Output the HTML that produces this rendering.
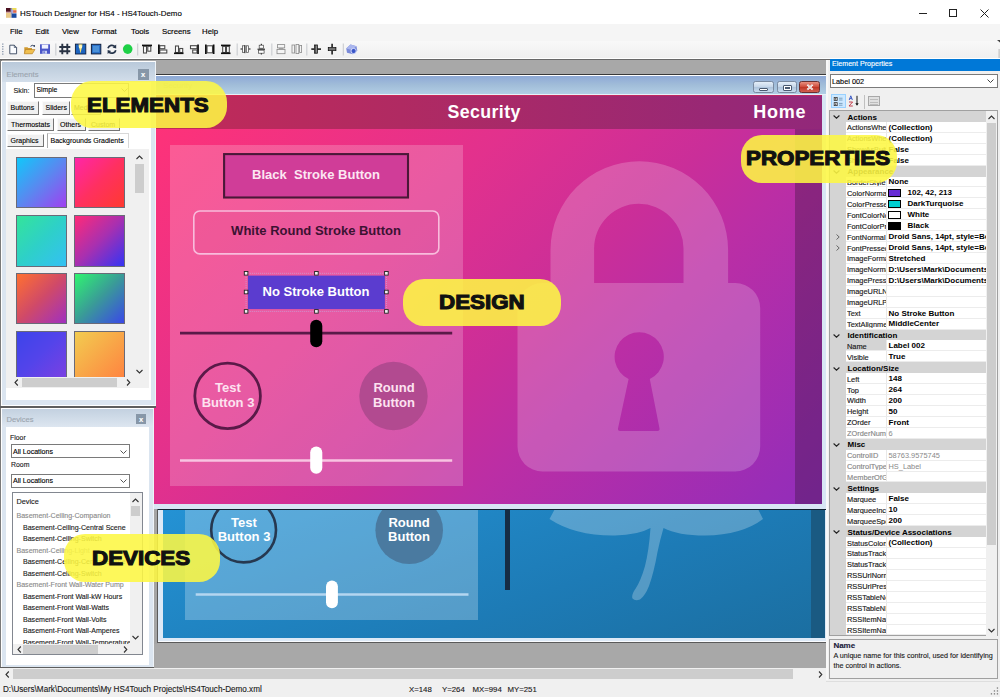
<!DOCTYPE html>
<html><head><meta charset="utf-8">
<style>
*{margin:0;padding:0;box-sizing:border-box}
html,body{width:1000px;height:697px;overflow:hidden;background:#fff}
body{font-family:"Liberation Sans",sans-serif;font-size:8px;color:#000;position:relative}
.a{position:absolute}
.t{position:absolute;white-space:nowrap;line-height:1;-webkit-text-stroke:0.12px currentColor}
/* title bar */
#title{left:0;top:0;width:1000px;height:24px;background:#fff}
#menu{left:0;top:24px;width:1000px;height:17px;background:#f5f5f5}
#tool{left:0;top:41px;width:1000px;height:17px;background:linear-gradient(#f8f8f8,#f0f0f0)}
#main{left:0;top:58px;width:1000px;height:622px;background:#a8a8a8;border-top:1px solid #fff}
#status{left:0;top:680px;width:1000px;height:17px;background:#f0f0f0}
.sep{position:absolute;top:43px;width:1px;height:13px;background:#c8c8c8;border-right:1px solid #fff}
.tab{background:#f0f0f0;border:1px solid #fafafa;border-right:1.5px solid #747474;border-bottom:1.5px solid #747474}
.sw{width:51.1px;border:1px solid #6a6a78}
.dl{position:absolute;left:23px;white-space:nowrap;line-height:1;font-size:7.05px;color:#1a1a1a;-webkit-text-stroke:0.12px currentColor}
.wb{height:11.9px;border:1px solid #7a8aa0;border-radius:2.5px;background:linear-gradient(#e4eef8,#c8d8ea 45%,#b0c6de 55%,#c8dcee)}
.dt{position:absolute;white-space:nowrap;font-weight:bold;font-size:13px;line-height:1}
.c{width:200px;text-align:center;font-size:13.7px;transform:scaleX(0.95)}
.pn{position:absolute;left:17px;width:38.5px;overflow:hidden;white-space:nowrap;font-size:7.4px;line-height:1;-webkit-text-stroke:0.15px currentColor}
.pvb{position:absolute;white-space:nowrap;font-weight:bold;font-size:8px;line-height:1;color:#000}
.pvg{position:absolute;white-space:nowrap;font-size:7.4px;line-height:1;color:#888}
.pc{position:absolute;left:17.5px;white-space:nowrap;font-weight:bold;font-size:8px;line-height:1;color:#000}
.yl{position:absolute;background:rgba(253,247,67,0.88);border-radius:21px}
.yt{position:absolute;white-space:nowrap;font-weight:bold;font-size:19.8px;line-height:1;color:#111;transform:scaleX(1.13);transform-origin:0 0;-webkit-text-stroke:1.1px #111;letter-spacing:0}
</style></head><body>
<!-- Title bar -->
<div class="a" id="title"></div>
<svg class="a" style="left:5.6px;top:7.9px" width="11" height="10"><rect x="0" y="0" width="4.8" height="4.2" fill="#4a1020"/><rect x="0" y="3.6" width="4.8" height="1.2" fill="#c89098"/><rect x="0" y="4.8" width="4.8" height="5" fill="#e8c888"/><rect x="4.8" y="0" width="1.2" height="9.8" fill="#8a94b0"/><rect x="6" y="0" width="4.5" height="2.2" fill="#ecdc58"/><rect x="6" y="2.2" width="4.5" height="2.6" fill="#e06848"/><rect x="5.4" y="1.5" width="1.8" height="3.5" fill="#b0a8e0"/><rect x="6" y="5.4" width="4.5" height="4.4" fill="#1a4aa0"/></svg>
<div class="t" style="left:20px;top:9.5px;font-size:7.9px;color:#000">HSTouch Designer for HS4 - HS4Touch-Demo</div>
<div class="a" style="left:919px;top:13px;width:8px;height:1px;background:#222"></div>
<div class="a" style="left:949px;top:9px;width:8px;height:8px;border:1px solid #222"></div>
<svg class="a" style="left:980px;top:9px" width="9" height="9"><path d="M0.5 0.5L8.5 8.5M8.5 0.5L0.5 8.5" stroke="#222" stroke-width="1"/></svg>
<!-- Menu -->
<div class="a" id="menu"></div>
<div class="t" style="left:10px;top:28px;font-size:7.8px;color:#000;-webkit-text-stroke:0.15px #000">File</div>
<div class="t" style="left:35.5px;top:28px;font-size:7.8px;color:#000;-webkit-text-stroke:0.15px #000">Edit</div>
<div class="t" style="left:62px;top:28px;font-size:7.8px;color:#000;-webkit-text-stroke:0.15px #000">View</div>
<div class="t" style="left:92px;top:28px;font-size:7.8px;color:#000;-webkit-text-stroke:0.15px #000">Format</div>
<div class="t" style="left:131px;top:28px;font-size:7.8px;color:#000;-webkit-text-stroke:0.15px #000">Tools</div>
<div class="t" style="left:162px;top:28px;font-size:7.8px;color:#000;-webkit-text-stroke:0.15px #000">Screens</div>
<div class="t" style="left:202px;top:28px;font-size:7.8px;color:#000;-webkit-text-stroke:0.15px #000">Help</div>
<!-- Toolbar -->
<div class="a" id="tool"></div>
<svg class="a" style="left:0;top:39px" width="362" height="20" viewBox="0 39 362 20">
 <!-- grip -->
 <g fill="#7888a0"><rect x="2.2" y="43.5" width="1.2" height="1.2"/><rect x="2.2" y="46" width="1.2" height="1.2"/><rect x="2.2" y="48.5" width="1.2" height="1.2"/><rect x="2.2" y="51" width="1.2" height="1.2"/><rect x="2.2" y="53.5" width="1.2" height="1.2"/></g>
 <!-- new -->
 <path d="M9.8 45.2H14.3L16.6 47.5V53.8H9.8Z" fill="#fafcff" stroke="#34445c" stroke-width="0.9"/>
 <path d="M14.3 45.2V47.5H16.6" fill="none" stroke="#34445c" stroke-width="0.7"/>
 <!-- open -->
 <path d="M24.3 47.2H27.5L28.3 48H32V53.6H24.3Z" fill="#d09a30"/>
 <path d="M25.5 49.5H35L32.3 53.8H24.3Z" fill="#f0c050" stroke="#b07820" stroke-width="0.6"/>
 <path d="M30.5 46.3Q32.5 44.3 34.3 46.3" fill="none" stroke="#2a3a58" stroke-width="1"/><path d="M33.2 45.6L35 47.2L35 45Z" fill="#2a3a58"/>
 <!-- save -->
 <rect x="40" y="44.3" width="10" height="9.5" fill="#4a56c8"/>
 <rect x="41.8" y="44.6" width="6.4" height="4" fill="#f0f2ff"/>
 <rect x="42.5" y="50.8" width="4.5" height="3" fill="#c8d0f0"/>
 <rect x="43.5" y="51.3" width="1.2" height="2" fill="#4a56c8"/>
 <rect x="55.4" y="43.5" width="0.9" height="12" fill="#c0c4c8"/>
 <!-- grid -->
 <g stroke="#2a3444" stroke-width="1.9"><path d="M62.3 43.8V54.3M67.3 43.8V54.3M59.3 47H70.3M59.3 51.2H70.3"/></g>
 <!-- image icon -->
 <rect x="75.4" y="44.1" width="10.4" height="9.9" fill="#1c64c0" stroke="#102040" stroke-width="0.9"/>
 <path d="M78.5 44.6Q80.5 44 82.5 44.6L81.5 49L80.5 53.5L79.5 49Z" fill="#f8e070"/><circle cx="80.5" cy="46.8" r="1.8" fill="#fff8c0"/>
 <!-- blue square -->
 <rect x="91.4" y="44.3" width="9.4" height="9.6" fill="#2a70c8" stroke="#102040" stroke-width="1"/>
 <rect x="93" y="46" width="6" height="6" fill="#4a90d8"/>
 <!-- refresh -->
 <path d="M108 48.3A4 4 0 0 1 115 46.8" fill="none" stroke="#26344a" stroke-width="1.7"/>
 <path d="M116.2 44.5L116.2 48.5L112.6 47.6Z" fill="#26344a"/>
 <path d="M115.8 50.2A4 4 0 0 1 108.8 51.7" fill="none" stroke="#26344a" stroke-width="1.7"/>
 <path d="M107.6 54L107.6 50L111.2 50.9Z" fill="#26344a"/>
 <!-- green -->
 <circle cx="127.7" cy="49.1" r="4.8" fill="#1ed046"/>
 <rect x="137.3" y="43.5" width="0.9" height="12" fill="#c0c4c8"/>
 <!-- align top -->
 <g fill="#fff" stroke="#4a4a4a" stroke-width="1.1">
  <rect x="143.5" y="46.2" width="3" height="6.8"/><rect x="147.8" y="46.2" width="3" height="5"/>
  <rect x="159.8" y="45.7" width="5" height="3"/><rect x="159.8" y="50" width="7" height="3"/>
  <rect x="175.5" y="46" width="3" height="6.5"/><rect x="179.7" y="48.5" width="3" height="4"/>
  <rect x="190.5" y="45.7" width="6.5" height="3"/><rect x="192.7" y="50" width="4.3" height="3"/>
  <rect x="207" y="45.8" width="5.5" height="7"/>
  <rect x="222.7" y="46.3" width="2.8" height="6.2"/><rect x="226.5" y="46.3" width="2.8" height="6.2"/>
 </g>
 <g fill="#111">
  <rect x="142" y="44.6" width="10" height="1.6"/>
  <rect x="158" y="44.5" width="1.7" height="9.5"/>
  <rect x="174" y="52.5" width="9.5" height="1.6"/>
  <rect x="197.2" y="44.5" width="1.7" height="9.5"/>
  <rect x="205" y="44.5" width="1.7" height="9.5"/><rect x="212.8" y="44.5" width="1.7" height="9.5"/>
  <rect x="221" y="44.6" width="9.5" height="1.6"/><rect x="221" y="52.5" width="9.5" height="1.6"/>
 </g>
 <rect x="236.7" y="43.5" width="0.9" height="12" fill="#c0c4c8"/>
 <!-- h spacing -->
 <g fill="#fff" stroke="#444" stroke-width="0.7"><rect x="242.5" y="45.8" width="2.3" height="6.5"/><rect x="246.3" y="45.8" width="2.3" height="6.5"/></g>
 <path d="M240.5 49H242.3M248.8 49H250.5" stroke="#111" stroke-width="1.1"/>
 <path d="M244.9 45V53.2" stroke="#111" stroke-width="0.8"/>
 <!-- v spacing -->
 <g fill="#fff" stroke="#444" stroke-width="0.7"><rect x="259.2" y="45.2" width="4.2" height="3"/><rect x="258.6" y="50.2" width="5.5" height="3"/></g>
 <path d="M261.3 43.8V45M261.3 53.3V54.5M257.5 49.2H265" stroke="#111" stroke-width="1"/>
 <rect x="271.4" y="43.5" width="0.9" height="12" fill="#c0c4c8"/>
 <!-- same size (gray) -->
 <g fill="#f4f4f4" stroke="#8a8a8a" stroke-width="0.8"><rect x="277.5" y="44.6" width="7.2" height="3.3"/><rect x="277" y="49.5" width="8" height="4.2"/></g>
 <path d="M278.8 48.6H283.4" stroke="#8a8a8a" stroke-width="0.8"/>
 <g fill="#f4f4f4" stroke="#8a8a8a" stroke-width="0.8"><rect x="292" y="45" width="2.6" height="8"/><rect x="296" y="44.4" width="2.8" height="9.2"/><rect x="299.6" y="45.5" width="2" height="7"/></g>
 <rect x="306.4" y="43.5" width="0.9" height="12" fill="#c0c4c8"/>
 <!-- center h -->
 <path d="M311.3 49.1H321" stroke="#111" stroke-width="1.5"/><rect x="314.4" y="45" width="3" height="8.2" fill="#fff" stroke="#111" stroke-width="0.8"/><path d="M315.9 45V53.2" stroke="#111" stroke-width="1.2"/>
 <!-- center v -->
 <path d="M332.1 43.8V54.6" stroke="#111" stroke-width="1.5"/><rect x="328.3" y="47.4" width="7.6" height="3.2" fill="#fff" stroke="#111" stroke-width="0.8"/><path d="M328.3 49H336" stroke="#111" stroke-width="1.2"/>
 <rect x="342.8" y="43.5" width="0.9" height="12" fill="#c0c4c8"/>
 <!-- 3d icon -->
 <path d="M346.2 48.5L350.5 44.6L356.5 46.2L357.3 50.8L353 54.3L347 52.7Z" fill="#7a8ad8"/>
 <path d="M346.2 48.5L350.5 44.6L356.5 46.2L352 50Z" fill="#aab6ee"/>
 <circle cx="353.6" cy="51" r="2.6" fill="#3a56c8" stroke="#e8ecff" stroke-width="0.8"/>
</svg>
<svg class="a" style="left:996px;top:38px" width="4" height="20"><path d="M1 2H4V4.5Z" fill="#444"/><rect x="2.6" y="11" width="1" height="9" fill="#b8b8b8"/></svg>
<!-- Main -->
<div class="a" id="main"></div>
<div class="a" style="left:0;top:59px;width:1000px;height:1.4px;background:#686868"></div>

<!-- ===== MDI / Design ===== -->
<div class="a" style="left:156px;top:74px;width:670px;height:1px;background:#3a3a3a"></div>
<!-- blue window (behind) -->
<div class="a" style="left:153.5px;top:504px;width:4px;height:140px;background:#a4a4a4"></div>
<div class="a" style="left:157px;top:504px;width:669px;height:139.3px;background:#dde9f6;border-left:1px solid #5a5a5a;border-bottom:1px solid #5a5a5a"></div>
<div class="a" style="left:158px;top:641.3px;width:668px;height:1px;background:#fafcff"></div>
<div class="a" style="left:157.5px;top:507.6px;width:668px;height:1px;background:#98e4f4"></div>
<div class="a" style="left:157.5px;top:508.6px;width:668px;height:1.2px;background:#10202e"></div>
<div class="a" id="blue" style="left:163px;top:509.8px;width:662.4px;height:127.8px;overflow:hidden;background:linear-gradient(160deg,#2492d4,#1d7bb6 60%,#1b6ea0)">
  <div class="a" style="left:647.8px;top:0;width:15px;height:129px;background:#1a5a82"></div>
  <div class="a" style="left:22.2px;top:-20px;width:292.5px;height:130.3px;background:rgba(255,255,255,0.25)"></div>
  <div class="a" style="left:342.2px;top:0;width:4.5px;height:80.3px;background:#162c44"></div>
  <svg class="a" style="left:-163px;top:-509.8px" width="1000" height="697">
    <path fill="rgba(255,255,255,0.25)" d="M557 505 L549.5 519 Q575 536 615 535.5 Q638 535 650.5 528 Q649 550 645 566 Q641 580 636 588 Q631 595 632.5 598.5 Q635 601.5 640 599.5 Q645 596 649 586 Q654 572 657.5 552 Q660 540 663.5 528 Q678 535.5 705 535.5 Q742 535 763 519 L756 505 Z"/>
    <circle cx="243.6" cy="530" r="32.4" fill="none" stroke="#263850" stroke-width="2.6"/>
    <circle cx="409.2" cy="530.3" r="33.8" fill="#4a7aa0"/>
    <line x1="195.7" y1="594.6" x2="468.5" y2="594.6" stroke="#b4d6f0" stroke-width="2.5"/>
    <rect x="326" y="580.6" width="11.9" height="27.6" rx="6" fill="#fff"/>
  </svg>
  <div class="dt c" style="left:-19.4px;top:5.9px;color:#fff;line-height:14.3px">Test<br>Button 3</div>
  <div class="dt c" style="left:146.2px;top:5.9px;color:#fff;line-height:14.3px">Round<br>Button</div>
</div>
<!-- pink window -->
<div class="a" style="left:150px;top:75px;width:676px;height:434px;background:#d8e6f4;border-top:1px solid #fff"></div>
<div class="a" style="left:150px;top:76px;width:676px;height:18.5px;background:linear-gradient(#8ea9d6,#a2bed9 50%,#b3cfe6)"></div>
<div class="a" style="left:150px;top:94.3px;width:676px;height:1px;background:#e8f0f8"></div>
<div class="t" style="left:163px;top:81.5px;font-size:8px;color:#8aa0b8">Security</div>
<div class="a wb" style="left:752.5px;top:81.2px;width:21px"></div>
<div class="a" style="left:758.5px;top:87.5px;width:9px;height:3px;background:#fff;border:1px solid #4a5a70;border-radius:1px"></div>
<div class="a wb" style="left:776.6px;top:81.2px;width:20.6px"></div>
<div class="a" style="left:782.5px;top:84.5px;width:9px;height:6.5px;background:#fff;border:1px solid #4a5a70;border-radius:1px"></div><div class="a" style="left:784.5px;top:86.5px;width:5px;height:2.5px;background:#4a5a70"></div>
<div class="a" style="left:799.2px;top:81.2px;width:21.1px;height:11.9px;border:1px solid #6a3030;border-radius:2.5px;background:linear-gradient(#e89080,#d05040 45%,#c03828 55%,#d06050)"></div>
<svg class="a" style="left:805px;top:83px" width="10" height="8"><path d="M2.3 1.6L7.7 6.6M7.7 1.6L2.3 6.6" stroke="#fff" stroke-width="1.8"/><path d="M2 1L8 7M8 1L2 7" stroke="#5a2020" stroke-width="0.4" opacity="0.4"/></svg>
<div class="a" style="left:153px;top:95.3px;width:2px;height:408.8px;background:linear-gradient(rgb(194,42,88) 8%,rgb(255,50,118) 9%,rgb(222,52,140))"></div>
<div class="a" id="pink" style="left:154px;top:95.3px;width:668px;height:408.8px;overflow:hidden;background:linear-gradient(135deg,rgb(255,50,118) 0%,rgb(252,50,122) 5%,rgb(226,49,141) 36%,rgb(202,46,153) 56%,rgb(187,46,165) 67%,rgb(152,45,183) 94%,rgb(146,45,186) 100%)">
  <div class="a" style="left:0;top:0;width:668px;height:34px;background:linear-gradient(90deg,rgb(194,42,88),rgb(176,42,98) 37%,rgb(152,40,117) 84%,rgb(146,40,122))"></div><div class="a" style="left:0;top:0;width:668px;height:1px;background:rgba(230,40,80,0.5)"></div>
  <div class="a" style="left:641px;top:34px;width:27px;height:375px;background:rgba(50,20,50,0.34)"></div>
  <div class="a" style="left:16px;top:50px;width:293px;height:340.5px;background:rgba(255,255,255,0.2)"></div>
  <svg class="a" style="left:-154px;top:-95.3px" width="1000" height="697">
    <path fill="rgba(255,255,255,0.2)" fill-rule="evenodd" d="M550.5 283 V250 A88.8 88.8 0 0 1 728.1 250 V283 H683.5 V248.5 A44.7 44.7 0 0 0 594.1 248.5 V283 Z M542.5 283 H735.2 A25 25 0 0 1 760.2 308 V446.5 A25 25 0 0 1 735.2 471.5 H542.5 A25 25 0 0 1 517.5 446.5 V308 A25 25 0 0 1 542.5 283 Z M628.6 379 A24.6 24.6 0 1 1 649.8 379 L659.5 428.5 Q660 431 657.5 431 H620 Q617.5 431 618 428.5 Z"/>
    <line x1="180" y1="333.2" x2="452.2" y2="333.2" stroke="#5a1a48" stroke-width="2.8"/>
    <rect x="310.2" y="319.8" width="12.1" height="27.4" rx="6" fill="#000"/>
    <circle cx="227.6" cy="395.9" r="32.8" fill="none" stroke="#5a1a48" stroke-width="2.8"/>
    <circle cx="393.5" cy="396" r="34.2" fill="#b24a90"/>
    <line x1="180" y1="460.4" x2="452.2" y2="460.4" stroke="#f8c4e2" stroke-width="2.5"/>
    <rect x="310.2" y="446.4" width="12.1" height="27.4" rx="6" fill="#fff"/>
    <rect x="224.1" y="154.1" width="183.9" height="43.4" fill="#d03d98" stroke="#4a1838" stroke-width="2.1"/>
    <rect x="193.8" y="211" width="245" height="42.9" rx="6" fill="rgba(160,20,90,0.04)" stroke="#f8bcdc" stroke-width="1.6"/>
    <rect x="246.1" y="273.3" width="140.3" height="38.1" fill="none" stroke="#c8a0d8" stroke-width="0.8" stroke-dasharray="1 1"/>
    <rect x="247.9" y="275.6" width="137" height="33.5" fill="#5b3ccf"/>
    <g fill="#f4f0f4" stroke="#222" stroke-width="0.9">
      <rect x="244.3" y="271.5" width="3.6" height="3.6"/><rect x="314.6" y="271.5" width="3.6" height="3.6"/><rect x="384.6" y="271.5" width="3.6" height="3.6"/>
      <rect x="244.3" y="290.2" width="3.6" height="3.6"/><rect x="384.6" y="290.2" width="3.6" height="3.6"/>
      <rect x="244.3" y="309.6" width="3.6" height="3.6"/><rect x="314.6" y="309.6" width="3.6" height="3.6"/><rect x="384.6" y="309.6" width="3.6" height="3.6"/>
    </g>
  </svg>
  <div class="dt" style="left:293.4px;top:8.4px;font-size:17.8px;color:#fff;letter-spacing:0.4px">Security</div>
  <div class="dt" style="left:599.2px;top:8.2px;font-size:18px;color:#fff;letter-spacing:0.8px">Home</div>
  <div class="dt c" style="left:62px;top:72.9px;color:#fce6f2">Black&nbsp; Stroke Button</div>
  <div class="dt c" style="left:62px;top:129.0px;color:#3c1232">White Round Stroke Button</div>
  <div class="dt c" style="left:62px;top:189.4px;color:#fff">No Stroke Button</div>
  <div class="dt c" style="left:-26.4px;top:285.8px;color:#fde2f0;line-height:14.6px">Test<br>Button 3</div>
  <div class="dt c" style="left:139.5px;top:285.8px;color:#fde2f0;line-height:14.6px">Round<br>Button</div>
</div>
<!-- ===== Elements panel ===== -->
<div class="a" style="left:0;top:60px;width:2px;height:608px;background:#7a7a7a"></div>
<div class="a" style="left:1px;top:61px;width:155px;height:345px;background:#dbe5f0;border:1px solid #fff;border-right:1px solid #eef3f8"></div>
<div class="a" style="left:2px;top:62px;width:153px;height:20px;background:linear-gradient(#b9c9da,#d3deea)"></div>
<div class="t" style="left:6.5px;top:71px;font-size:7.7px;color:#9aa4ae">Elements</div>
<div class="a" style="left:138px;top:69px;width:10.5px;height:10.5px;background:#8797a8"></div>
<div class="t" style="left:141px;top:70.5px;font-size:7.5px;color:#fff;font-weight:bold">x</div>
<div class="a" style="left:6px;top:82px;width:145px;height:318px;background:#fff"></div>
<div class="t" style="left:13.5px;top:86.5px;font-size:7.2px;color:#1a1a1a">Skin:</div>
<div class="a" style="left:34px;top:83px;width:95px;height:14.5px;background:#fff;border:1px solid #7a7a7a"></div>
<div class="t" style="left:36.5px;top:86.5px;font-size:6.8px;color:#000">Simple</div>
<svg class="a" style="left:121px;top:88px" width="7" height="5"><path d="M0.5 0.5L3.5 3.5L6.5 0.5" fill="none" stroke="#555" stroke-width="1"/></svg>
<!-- tabs -->
<div class="a tab" style="left:7px;top:101px;width:32px;height:13.5px"></div><div class="t" style="left:10.5px;top:104.3px;font-size:7px">Buttons</div>
<div class="a tab" style="left:42px;top:101px;width:27.5px;height:13.5px"></div><div class="t" style="left:45.5px;top:104.3px;font-size:7px">Sliders</div>
<div class="a tab" style="left:70.5px;top:101px;width:30px;height:13.5px"></div><div class="t" style="left:74px;top:104.3px;font-size:7px">Media</div>
<div class="a tab" style="left:7px;top:117.5px;width:47px;height:13px"></div><div class="t" style="left:11px;top:120.5px;font-size:7px">Thermostats</div>
<div class="a tab" style="left:57px;top:117.5px;width:28.5px;height:13px"></div><div class="t" style="left:60px;top:120.5px;font-size:7px">Others</div>
<div class="a tab" style="left:88px;top:117.5px;width:32px;height:13px"></div><div class="t" style="left:91px;top:120.5px;font-size:7px">Custom</div>
<div class="a tab" style="left:7px;top:134px;width:36.5px;height:13px"></div><div class="t" style="left:10.5px;top:137px;font-size:7px">Graphics</div>
<div class="a" style="left:46.5px;top:133px;width:82px;height:15px;background:#fff;border:1px solid #d8d8d8;border-bottom:none;border-left:1.5px solid #a8a8a8"></div><div class="t" style="left:50.5px;top:137px;font-size:7px">Backgrounds Gradients</div>
<div class="a" style="left:6px;top:148px;width:143px;height:239.5px;background:#f0f0f0;border-top:1px solid #fff"></div>
<div class="a" style="left:11px;top:152px;width:135px;height:236px;background:#f0f0f0"></div>

<!-- swatches -->
<div class="a sw" style="left:16.3px;top:157px;height:51.4px;background:linear-gradient(135deg,#10c8fa,#5a88f0 50%,#a040f0)"></div>
<div class="a sw" style="left:74.3px;top:157px;height:51.4px;background:linear-gradient(135deg,#ff26a8,#ff3060 50%,#ff3a30)"></div>
<div class="a sw" style="left:16.3px;top:215px;height:51.5px;background:linear-gradient(135deg,#34e49a,#2ed0c8 50%,#34c0f4)"></div>
<div class="a sw" style="left:74.3px;top:215px;height:51.5px;background:linear-gradient(135deg,#ff2a78,#a830b0 50%,#3434f4)"></div>
<div class="a sw" style="left:16.3px;top:273px;height:51px;background:linear-gradient(135deg,#ff7030,#d04a68 50%,#a030c0)"></div>
<div class="a sw" style="left:74.3px;top:273px;height:51px;background:linear-gradient(135deg,#30f470,#3a9a98 50%,#3a48e8)"></div>
<div class="a sw" style="left:16.3px;top:331px;height:46px;background:linear-gradient(135deg,#3c44ea,#5444ea 50%,#7a40e2);border-bottom:none"></div>
<div class="a sw" style="left:74.3px;top:331px;height:46px;background:linear-gradient(135deg,#f2cc50,#f8a848 50%,#ff8440);border-bottom:none"></div>
<!-- h scrollbar -->
<div class="a" style="left:11px;top:377px;width:122px;height:10px;background:#f0f0f0"></div>
<div class="a" style="left:21.5px;top:377.5px;width:95.5px;height:9.5px;background:#cdcdcd"></div>
<svg class="a" style="left:13.5px;top:379px" width="5" height="7"><path d="M3.8 0.5L1 3.5L3.8 6.5" fill="none" stroke="#333" stroke-width="1.1"/></svg>
<svg class="a" style="left:125.5px;top:379px" width="5" height="7"><path d="M1 0.5L3.8 3.5L1 6.5" fill="none" stroke="#333" stroke-width="1.1"/></svg>
<!-- v scrollbar -->
<div class="a" style="left:133.5px;top:152px;width:11px;height:225px;background:#f0f0f0"></div>
<div class="a" style="left:134.5px;top:163.5px;width:9px;height:29px;background:#cdcdcd"></div>
<svg class="a" style="left:136px;top:155px" width="7" height="5"><path d="M0.5 4L3.5 1L6.5 4" fill="none" stroke="#333" stroke-width="1.1"/></svg>
<svg class="a" style="left:136px;top:368.5px" width="7" height="5"><path d="M0.5 1L3.5 4L6.5 1" fill="none" stroke="#333" stroke-width="1.1"/></svg>

<!-- ===== Devices panel ===== -->
<div class="a" style="left:0;top:405.5px;width:156px;height:2px;background:#5e5e5e"></div>
<div class="a" style="left:1px;top:407.5px;width:152.5px;height:260px;background:#dbe5f0;border:1px solid #fff;border-right:1px solid #eef3f8"></div>
<div class="a" style="left:2px;top:408.5px;width:150.5px;height:18.5px;background:linear-gradient(#c3d1e0,#dde6f0)"></div>
<div class="t" style="left:6.5px;top:416px;font-size:7.6px;color:#9aa4ae">Devices</div>
<div class="a" style="left:136.1px;top:414.3px;width:9.8px;height:9.7px;background:#8797a8"></div>
<div class="t" style="left:139px;top:415.5px;font-size:7.5px;color:#fff;font-weight:bold">x</div>
<div class="a" style="left:5.7px;top:427px;width:143.1px;height:237.5px;background:#fff"></div>
<div class="t" style="left:10px;top:434.5px;font-size:6.9px;color:#1a1a1a">Floor</div>
<div class="a" style="left:11px;top:444.3px;width:118.6px;height:14.2px;background:#fff;border:1px solid #7a7a7a"></div>
<div class="t" style="left:13px;top:448px;font-size:7.05px">All Locations</div>
<svg class="a" style="left:120px;top:449.5px" width="7" height="5"><path d="M0.5 0.5L3.5 3.5L6.5 0.5" fill="none" stroke="#555" stroke-width="1"/></svg>
<div class="t" style="left:11px;top:462px;font-size:6.9px;color:#1a1a1a">Room</div>
<div class="a" style="left:11px;top:473.9px;width:118.6px;height:13.7px;background:#fff;border:1px solid #7a7a7a"></div>
<div class="t" style="left:13px;top:477.3px;font-size:7.05px">All Locations</div>
<svg class="a" style="left:120px;top:479px" width="7" height="5"><path d="M0.5 0.5L3.5 3.5L6.5 0.5" fill="none" stroke="#555" stroke-width="1"/></svg>
<div class="a" style="left:11.5px;top:492.2px;width:131px;height:163px;background:#fff;border:1px solid #828790"></div>
<div class="t" style="left:16.5px;top:498px;font-size:7.3px;color:#1a1a1a">Device</div>
<div class="dl" style="top:512.3px;left:16.5px;color:#8a8a8a">Basement-Ceiling-Companion</div>
<div class="dl" style="top:523.8px">Basement-Ceiling-Central Scene</div>
<div class="dl" style="top:535.3px">Basement-Ceiling-Switch</div>
<div class="dl" style="top:546.8px;left:16.5px;color:#8a8a8a">Basement-Ceiling-Light</div>
<div class="dl" style="top:558.3px">Basement-Ceiling-Central Scene</div>
<div class="dl" style="top:569.8px">Basement-Ceiling-Switch</div>
<div class="dl" style="top:581.3px;left:16.5px;color:#8a8a8a">Basement-Front Wall-Water Pump</div>
<div class="dl" style="top:592.8px">Basement-Front Wall-kW Hours</div>
<div class="dl" style="top:604.3px">Basement-Front Wall-Watts</div>
<div class="dl" style="top:615.8px">Basement-Front Wall-Volts</div>
<div class="dl" style="top:627.3px">Basement-Front Wall-Amperes</div>
<div class="a" style="left:12.5px;top:637px;width:117px;height:7px;overflow:hidden"><div class="dl" style="top:1.8px;left:10.5px">Basement-Front Wall-Temperature</div></div>
<div class="a" style="left:129.6px;top:493px;width:12px;height:151px;background:#f0f0f0"></div>
<div class="a" style="left:131px;top:505.5px;width:9px;height:10.5px;background:#cdcdcd"></div>
<svg class="a" style="left:132px;top:497.5px" width="7" height="5"><path d="M0.5 4L3.5 1L6.5 4" fill="none" stroke="#333" stroke-width="1.1"/></svg>
<svg class="a" style="left:132px;top:634.5px" width="7" height="5"><path d="M0.5 1L3.5 4L6.5 1" fill="none" stroke="#333" stroke-width="1.1"/></svg>
<div class="a" style="left:12.5px;top:644px;width:129px;height:10px;background:#f0f0f0"></div>
<div class="a" style="left:23px;top:644.5px;width:74.7px;height:9.3px;background:#cdcdcd"></div>
<svg class="a" style="left:16.5px;top:645.5px" width="5" height="7"><path d="M3.8 0.5L1 3.5L3.8 6.5" fill="none" stroke="#333" stroke-width="1.1"/></svg>
<svg class="a" style="left:122.5px;top:645.5px" width="5" height="7"><path d="M1 0.5L3.8 3.5L1 6.5" fill="none" stroke="#333" stroke-width="1.1"/></svg>
<div class="a" style="left:0;top:667px;width:154px;height:1px;background:#5e5e5e"></div>


<!-- MDI h scrollbar -->
<div class="a" style="left:0;top:668.3px;width:826px;height:11.5px;background:#f0f0f0"></div>
<div class="a" style="left:13.3px;top:668.8px;width:780px;height:10.5px;background:#cdcdcd"></div>
<svg class="a" style="left:4.5px;top:670.5px" width="5" height="7"><path d="M3.8 0.5L1 3.5L3.8 6.5" fill="none" stroke="#333" stroke-width="1.1"/></svg>
<svg class="a" style="left:817.5px;top:670.5px" width="5" height="7"><path d="M1 0.5L3.8 3.5L1 6.5" fill="none" stroke="#333" stroke-width="1.1"/></svg>
<!-- ===== Properties panel ===== -->
<div class="a" style="left:825.7px;top:60px;width:174.3px;height:620px;background:#f0f0f0;border-left:2.5px solid #f8f8f8"></div>
<div class="a" style="left:829.6px;top:59.4px;width:170.4px;height:11.2px;background:#0078d7"></div>
<div class="t" style="left:832px;top:60.5px;font-size:7.1px;color:#fff">Element Properties</div>
<div class="a" style="left:829.6px;top:74.2px;width:168px;height:14px;background:#fff;border:1px solid #7a7a7a"></div>
<div class="t" style="left:832px;top:78px;font-size:7.3px;color:#000">Label 002</div>
<svg class="a" style="left:987px;top:79px" width="7" height="5"><path d="M0.5 0.5L3.5 3.5L6.5 0.5" fill="none" stroke="#444" stroke-width="1"/></svg>
<!-- prop toolbar -->
<div class="a" style="left:831px;top:93.9px;width:15.3px;height:14.4px;background:#cce8ff;border:1px solid #99d1ff"></div>
<svg class="a" style="left:831px;top:93.9px" width="16" height="15">
 <rect x="3.2" y="3.4" width="3" height="3" fill="#fff" stroke="#333" stroke-width="0.8"/><rect x="3.2" y="8.6" width="3" height="3" fill="#fff" stroke="#333" stroke-width="0.8"/>
 <circle cx="4.7" cy="4.9" r="0.7" fill="#000"/><circle cx="4.7" cy="10.1" r="0.7" fill="#000"/>
 <path d="M8 4.2H11.5M8 6H11.5M8 9.4H11.5M8 11.2H11.5" stroke="#7aa0c0" stroke-width="1"/>
</svg>
<svg class="a" style="left:848px;top:95px" width="12" height="12">
 <path d="M1.2 5L2.8 0.8L4.4 5M1.8 3.6H3.8" fill="none" stroke="#3050c0" stroke-width="0.9"/>
 <path d="M1 7H4.6L1 11H4.8" fill="none" stroke="#c03040" stroke-width="0.9"/>
 <path d="M9 0.8V9.5" stroke="#111" stroke-width="1"/><path d="M7.3 8.2L9 10.8L10.7 8.2Z" fill="#111"/>
</svg>
<div class="a" style="left:863.5px;top:95px;width:1px;height:13.5px;background:#c0c0c0"></div>
<div class="a" style="left:868.2px;top:96px;width:11.4px;height:10.2px;background:#e0e0e0;border:1px solid #a8a8a8"></div>
<div class="a" style="left:870px;top:99px;width:7.8px;height:1px;background:#bcbcbc"></div>
<div class="a" style="left:870px;top:101.5px;width:7.8px;height:1px;background:#bcbcbc"></div>
<div class="a" style="left:870px;top:104px;width:7.8px;height:1px;background:#bcbcbc"></div>
<div class="a" style="left:829px;top:110px;width:168.5px;height:526px;background:#fff;border:1px solid #a0a0a0;overflow:hidden">
<div class="a" style="left:0;top:0;width:16.2px;height:530px;background:#d4d4d4"></div>
<div class="a" style="left:56px;top:0;width:1px;height:530px;background:#e8e8e8"></div>
<div class="a" style="left:0;top:0.00px;width:157px;height:10.926px;background:#d4d4d4"></div>
<svg class="a" style="left:3.0px;top:4.30px" width="7" height="4"><path d="M0.6 0.5L3.5 3.2L6.4 0.5" fill="none" stroke="#222" stroke-width="1.1"/></svg>
<div class="pc" style="top:2.60px">Actions</div>
<div class="a" style="left:16.2px;top:20.85px;width:141px;height:1px;background:#ececec"></div>
<div class="pn" style="top:13.33px;color:#1a1a1a">ActionsWhenPressed</div>
<div class="pvb" style="left:58.5px;top:12.83px">(Collection)</div>
<div class="a" style="left:16.2px;top:31.78px;width:141px;height:1px;background:#ececec"></div>
<div class="pn" style="top:24.25px;color:#1a1a1a">ActionsWhenReleased</div>
<div class="pvb" style="left:58.5px;top:23.75px">(Collection)</div>
<div class="a" style="left:16.2px;top:42.70px;width:141px;height:1px;background:#ececec"></div>
<div class="pn" style="top:35.18px;color:#1a1a1a">ShowAsButton</div>
<div class="pvb" style="left:58.5px;top:34.68px">False</div>
<div class="a" style="left:16.2px;top:53.63px;width:141px;height:1px;background:#ececec"></div>
<div class="pn" style="top:46.10px;color:#1a1a1a">ShowAsToggle</div>
<div class="pvb" style="left:58.5px;top:45.60px">False</div>
<div class="a" style="left:0;top:54.63px;width:157px;height:10.926px;background:#d4d4d4"></div>
<svg class="a" style="left:3.0px;top:58.93px" width="7" height="4"><path d="M0.6 0.5L3.5 3.2L6.4 0.5" fill="none" stroke="#222" stroke-width="1.1"/></svg>
<div class="pc" style="top:57.23px">Appearance</div>
<div class="a" style="left:16.2px;top:75.48px;width:141px;height:1px;background:#ececec"></div>
<div class="pn" style="top:67.96px;color:#1a1a1a">BorderStyle</div>
<div class="pvb" style="left:58.5px;top:67.46px">None</div>
<div class="a" style="left:16.2px;top:86.41px;width:141px;height:1px;background:#ececec"></div>
<div class="pn" style="top:78.88px;color:#1a1a1a">ColorNormal</div>
<div class="a" style="left:57.8px;top:78.18px;width:13.5px;height:7.6px;background:#662ad5;border:1px solid #000"></div>
<div class="pvb" style="left:77.5px;top:78.38px">102, 42, 213</div>
<div class="a" style="left:16.2px;top:97.33px;width:141px;height:1px;background:#ececec"></div>
<div class="pn" style="top:89.81px;color:#1a1a1a">ColorPressed</div>
<div class="a" style="left:57.8px;top:89.11px;width:13.5px;height:7.6px;background:#00ced1;border:1px solid #000"></div>
<div class="pvb" style="left:77.5px;top:89.31px">DarkTurquoise</div>
<div class="a" style="left:16.2px;top:108.26px;width:141px;height:1px;background:#ececec"></div>
<div class="pn" style="top:100.73px;color:#1a1a1a">FontColorNormal</div>
<div class="a" style="left:57.8px;top:100.03px;width:13.5px;height:7.6px;background:#ffffff;border:1px solid #000"></div>
<div class="pvb" style="left:77.5px;top:100.23px">White</div>
<div class="a" style="left:16.2px;top:119.19px;width:141px;height:1px;background:#ececec"></div>
<div class="pn" style="top:111.66px;color:#1a1a1a">FontColorPressed</div>
<div class="a" style="left:57.8px;top:110.96px;width:13.5px;height:7.6px;background:#000000;border:1px solid #000"></div>
<div class="pvb" style="left:77.5px;top:111.16px">Black</div>
<div class="a" style="left:16.2px;top:130.11px;width:141px;height:1px;background:#ececec"></div>
<svg class="a" style="left:6px;top:123.39px" width="4" height="6"><path d="M0.5 0.5L3.2 3L0.5 5.5" fill="none" stroke="#666" stroke-width="1"/></svg>
<div class="pn" style="top:122.59px;color:#1a1a1a">FontNormal</div>
<div class="pvb" style="left:58.5px;top:122.09px">Droid Sans, 14pt, style=Bold</div>
<div class="a" style="left:16.2px;top:141.04px;width:141px;height:1px;background:#ececec"></div>
<svg class="a" style="left:6px;top:134.31px" width="4" height="6"><path d="M0.5 0.5L3.2 3L0.5 5.5" fill="none" stroke="#666" stroke-width="1"/></svg>
<div class="pn" style="top:133.51px;color:#1a1a1a">FontPressed</div>
<div class="pvb" style="left:58.5px;top:133.01px">Droid Sans, 14pt, style=Bold</div>
<div class="a" style="left:16.2px;top:151.96px;width:141px;height:1px;background:#ececec"></div>
<div class="pn" style="top:144.44px;color:#1a1a1a">ImageFormat</div>
<div class="pvb" style="left:58.5px;top:143.94px">Stretched</div>
<div class="a" style="left:16.2px;top:162.89px;width:141px;height:1px;background:#ececec"></div>
<div class="pn" style="top:155.36px;color:#1a1a1a">ImageNormal</div>
<div class="pvb" style="left:58.5px;top:154.86px">D:\Users\Mark\Documents\</div>
<div class="a" style="left:16.2px;top:173.82px;width:141px;height:1px;background:#ececec"></div>
<div class="pn" style="top:166.29px;color:#1a1a1a">ImagePressed</div>
<div class="pvb" style="left:58.5px;top:165.79px">D:\Users\Mark\Documents\</div>
<div class="a" style="left:16.2px;top:184.74px;width:141px;height:1px;background:#ececec"></div>
<div class="pn" style="top:177.22px;color:#1a1a1a">ImageURLNormal</div>
<div class="a" style="left:16.2px;top:195.67px;width:141px;height:1px;background:#ececec"></div>
<div class="pn" style="top:188.14px;color:#1a1a1a">ImageURLPressed</div>
<div class="a" style="left:16.2px;top:206.59px;width:141px;height:1px;background:#ececec"></div>
<div class="pn" style="top:199.07px;color:#1a1a1a">Text</div>
<div class="pvb" style="left:58.5px;top:198.57px">No Stroke Button</div>
<div class="a" style="left:16.2px;top:217.52px;width:141px;height:1px;background:#ececec"></div>
<div class="pn" style="top:209.99px;color:#1a1a1a">TextAlignment</div>
<div class="pvb" style="left:58.5px;top:209.49px">MiddleCenter</div>
<div class="a" style="left:0;top:218.52px;width:157px;height:10.926px;background:#d4d4d4"></div>
<svg class="a" style="left:3.0px;top:222.82px" width="7" height="4"><path d="M0.6 0.5L3.5 3.2L6.4 0.5" fill="none" stroke="#222" stroke-width="1.1"/></svg>
<div class="pc" style="top:221.12px">Identification</div>
<div class="a" style="left:16.2px;top:239.37px;width:141px;height:1px;background:#ececec"></div>
<div class="a" style="left:16.2px;top:229.45px;width:39.8px;height:9.93px;background:#d4d4d4"></div>
<div class="pn" style="top:231.85px;color:#1a1a1a">Name</div>
<div class="pvb" style="left:58.5px;top:231.35px">Label 002</div>
<div class="a" style="left:16.2px;top:250.30px;width:141px;height:1px;background:#ececec"></div>
<div class="pn" style="top:242.77px;color:#1a1a1a">Visible</div>
<div class="pvb" style="left:58.5px;top:242.27px">True</div>
<div class="a" style="left:0;top:251.30px;width:157px;height:10.926px;background:#d4d4d4"></div>
<svg class="a" style="left:3.0px;top:255.60px" width="7" height="4"><path d="M0.6 0.5L3.5 3.2L6.4 0.5" fill="none" stroke="#222" stroke-width="1.1"/></svg>
<div class="pc" style="top:253.90px">Location/Size</div>
<div class="a" style="left:16.2px;top:272.15px;width:141px;height:1px;background:#ececec"></div>
<div class="pn" style="top:264.62px;color:#1a1a1a">Left</div>
<div class="pvb" style="left:58.5px;top:264.12px">148</div>
<div class="a" style="left:16.2px;top:283.08px;width:141px;height:1px;background:#ececec"></div>
<div class="pn" style="top:275.55px;color:#1a1a1a">Top</div>
<div class="pvb" style="left:58.5px;top:275.05px">264</div>
<div class="a" style="left:16.2px;top:294.00px;width:141px;height:1px;background:#ececec"></div>
<div class="pn" style="top:286.48px;color:#1a1a1a">Width</div>
<div class="pvb" style="left:58.5px;top:285.98px">200</div>
<div class="a" style="left:16.2px;top:304.93px;width:141px;height:1px;background:#ececec"></div>
<div class="pn" style="top:297.40px;color:#1a1a1a">Height</div>
<div class="pvb" style="left:58.5px;top:296.90px">50</div>
<div class="a" style="left:16.2px;top:315.85px;width:141px;height:1px;background:#ececec"></div>
<div class="pn" style="top:308.33px;color:#1a1a1a">ZOrder</div>
<div class="pvb" style="left:58.5px;top:307.83px">Front</div>
<div class="a" style="left:16.2px;top:326.78px;width:141px;height:1px;background:#ececec"></div>
<div class="pn" style="top:319.25px;color:#888">ZOrderNum</div>
<div class="pvg" style="left:58.5px;top:319.25px">6</div>
<div class="a" style="left:0;top:327.78px;width:157px;height:10.926px;background:#d4d4d4"></div>
<svg class="a" style="left:3.0px;top:332.08px" width="7" height="4"><path d="M0.6 0.5L3.5 3.2L6.4 0.5" fill="none" stroke="#222" stroke-width="1.1"/></svg>
<div class="pc" style="top:330.38px">Misc</div>
<div class="a" style="left:16.2px;top:348.63px;width:141px;height:1px;background:#ececec"></div>
<div class="pn" style="top:341.11px;color:#888">ControlID</div>
<div class="pvg" style="left:58.5px;top:341.11px">58763.9575745</div>
<div class="a" style="left:16.2px;top:359.56px;width:141px;height:1px;background:#ececec"></div>
<div class="pn" style="top:352.03px;color:#888">ControlType</div>
<div class="pvg" style="left:58.5px;top:352.03px">HS_Label</div>
<div class="a" style="left:16.2px;top:370.48px;width:141px;height:1px;background:#ececec"></div>
<div class="pn" style="top:362.96px;color:#888">MemberOfGroup</div>
<div class="a" style="left:0;top:371.48px;width:157px;height:10.926px;background:#d4d4d4"></div>
<svg class="a" style="left:3.0px;top:375.78px" width="7" height="4"><path d="M0.6 0.5L3.5 3.2L6.4 0.5" fill="none" stroke="#222" stroke-width="1.1"/></svg>
<div class="pc" style="top:374.08px">Settings</div>
<div class="a" style="left:16.2px;top:392.34px;width:141px;height:1px;background:#ececec"></div>
<div class="pn" style="top:384.81px;color:#1a1a1a">Marquee</div>
<div class="pvb" style="left:58.5px;top:384.31px">False</div>
<div class="a" style="left:16.2px;top:403.26px;width:141px;height:1px;background:#ececec"></div>
<div class="pn" style="top:395.74px;color:#1a1a1a">MarqueeInc</div>
<div class="pvb" style="left:58.5px;top:395.24px">10</div>
<div class="a" style="left:16.2px;top:414.19px;width:141px;height:1px;background:#ececec"></div>
<div class="pn" style="top:406.66px;color:#1a1a1a">MarqueeSpeed</div>
<div class="pvb" style="left:58.5px;top:406.16px">200</div>
<div class="a" style="left:0;top:415.19px;width:157px;height:10.926px;background:#d4d4d4"></div>
<svg class="a" style="left:3.0px;top:419.49px" width="7" height="4"><path d="M0.6 0.5L3.5 3.2L6.4 0.5" fill="none" stroke="#222" stroke-width="1.1"/></svg>
<div class="pc" style="top:417.79px">Status/Device Associations</div>
<div class="a" style="left:16.2px;top:436.04px;width:141px;height:1px;background:#ececec"></div>
<div class="pn" style="top:428.51px;color:#1a1a1a">StatusColors</div>
<div class="pvb" style="left:58.5px;top:428.01px">(Collection)</div>
<div class="a" style="left:16.2px;top:446.97px;width:141px;height:1px;background:#ececec"></div>
<div class="pn" style="top:439.44px;color:#1a1a1a">StatusTrackDevice</div>
<div class="a" style="left:16.2px;top:457.89px;width:141px;height:1px;background:#ececec"></div>
<div class="pn" style="top:450.37px;color:#1a1a1a">StatusTrackValue</div>
<div class="a" style="left:16.2px;top:468.82px;width:141px;height:1px;background:#ececec"></div>
<div class="pn" style="top:461.29px;color:#1a1a1a">RSSUrlNormal</div>
<div class="a" style="left:16.2px;top:479.74px;width:141px;height:1px;background:#ececec"></div>
<div class="pn" style="top:472.22px;color:#1a1a1a">RSSUrlPressed</div>
<div class="a" style="left:16.2px;top:490.67px;width:141px;height:1px;background:#ececec"></div>
<div class="pn" style="top:483.14px;color:#1a1a1a">RSSTableNormal</div>
<div class="a" style="left:16.2px;top:501.60px;width:141px;height:1px;background:#ececec"></div>
<div class="pn" style="top:494.07px;color:#1a1a1a">RSSTableNPressed</div>
<div class="a" style="left:16.2px;top:512.52px;width:141px;height:1px;background:#ececec"></div>
<div class="pn" style="top:505.00px;color:#1a1a1a">RSSItemNameNormal</div>
<div class="a" style="left:16.2px;top:523.45px;width:141px;height:1px;background:#ececec"></div>
<div class="pn" style="top:515.92px;color:#1a1a1a">RSSItemNamePressed</div>
</div>
<!-- prop scrollbar -->
<div class="a" style="left:986.3px;top:111px;width:10.7px;height:524.5px;background:#f0f0f0"></div>
<div class="a" style="left:986.8px;top:123px;width:9.5px;height:422px;background:#cdcdcd"></div>
<svg class="a" style="left:988px;top:114.5px" width="7" height="5"><path d="M0.5 4L3.5 1L6.5 4" fill="none" stroke="#333" stroke-width="1.1"/></svg>
<svg class="a" style="left:988px;top:628px" width="7" height="5"><path d="M0.5 1L3.5 4L6.5 1" fill="none" stroke="#333" stroke-width="1.1"/></svg>
<!-- description -->
<div class="a" style="left:829px;top:639px;width:168.5px;height:39.5px;background:#f0f0f0;border:1px solid #a0a0a0"></div>
<div class="t" style="left:833.4px;top:642px;font-size:8px;font-weight:bold;color:#1a1a3a">Name</div>
<div class="t" style="left:833.4px;top:651.3px;font-size:7.2px;color:#1a1a1a;line-height:9.4px">A unique name for this control, used for identifying<br>the control in actions.</div>

<!-- Status -->

<div class="a" id="status"></div>
<div class="t" style="left:3px;top:685.7px;font-size:8.15px;color:#1a1a1a">D:\Users\Mark\Documents\My HS4Touch Projects\HS4Touch-Demo.xml</div>
<div class="t" style="left:409px;top:686px;font-size:7.8px;color:#1a1a1a">X=148</div>
<div class="t" style="left:442px;top:686px;font-size:7.8px;color:#1a1a1a">Y=264</div>
<div class="t" style="left:472.5px;top:686px;font-size:7.8px;color:#1a1a1a">MX=994</div>
<div class="t" style="left:507.5px;top:686px;font-size:7.8px;color:#1a1a1a">MY=251</div>

<div class="a" style="left:826px;top:681px;width:174px;height:1px;background:#dedede"></div>
<svg class="a" style="left:990px;top:686.5px" width="9" height="9"><g fill="#7a7a7a"><rect x="6.8" y="0.4" width="1.3" height="1.3"/><rect x="3.8" y="3.3" width="1.3" height="1.3"/><rect x="6.8" y="3.3" width="1.3" height="1.3"/><rect x="0.8" y="6.2" width="1.3" height="1.3"/><rect x="3.8" y="6.2" width="1.3" height="1.3"/><rect x="6.8" y="6.2" width="1.3" height="1.3"/></g></svg>
<!-- ===== Yellow labels ===== -->
<div class="yl" style="left:71px;top:81px;width:156px;height:47px"></div>
<div class="yt" style="left:87.3px;top:96.1px">ELEMENTS</div>
<div class="yl" style="left:740.8px;top:135px;width:156.6px;height:47.6px"></div>
<div class="yt" style="left:746.3px;top:149.2px">PROPERTIES</div>
<div class="yl" style="left:403px;top:279px;width:157.5px;height:47.4px"></div>
<div class="yt" style="left:438.6px;top:293.0px">DESIGN</div>
<div class="yl" style="left:63.5px;top:534px;width:156.5px;height:48.2px"></div>
<div class="yt" style="left:91.8px;top:549.1px">DEVICES</div>
</body></html>
